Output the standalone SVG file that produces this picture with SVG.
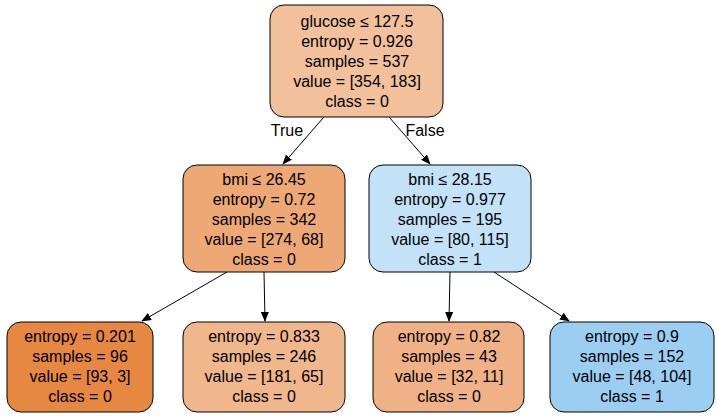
<svg xmlns="http://www.w3.org/2000/svg" width="717" height="419" viewBox="0 0 717 419">
<style>
rect{stroke:#000;stroke-width:1}
text{font-family:"Liberation Sans",Arial,sans-serif;font-size:16px;text-anchor:middle;fill:#000}
.e{stroke:#000;stroke-width:1;fill:none;marker-end:url(#a)}
</style>
<defs><marker id="a" markerWidth="10" markerHeight="8" refX="9" refY="4" orient="auto" markerUnits="userSpaceOnUse"><path d="M0,0L10,4L0,8z" fill="#000"/></marker></defs>
<rect width="717" height="419" fill="#fff" style="stroke:none"/>
<g id="edges">
<path class="e" d="M324,117L283,164"/>
<path class="e" d="M389,117L430,164"/>
<path class="e" d="M227,272L142,321"/>
<path class="e" d="M264,272L265,321"/>
<path class="e" d="M450,272L449,321"/>
<path class="e" d="M494,272L569,321"/>
<text x="287" y="136">True</text>
<text x="425" y="136">False</text>
</g>
<g id="n0"><rect x="270" y="5" width="173" height="112" rx="14" fill="#f3c09c"/>
<text x="357" y="27">glucose ≤ 127.5</text><text x="357" y="47">entropy = 0.926</text><text x="357" y="67">samples = 537</text><text x="357" y="87">value = [354, 183]</text><text x="357" y="107">class = 0</text></g>
<g id="n1"><rect x="183" y="165" width="162" height="107" rx="14" fill="#eda876"/>
<text x="264" y="185">bmi ≤ 26.45</text><text x="264" y="205">entropy = 0.72</text><text x="264" y="225">samples = 342</text><text x="264" y="245">value = [274, 68]</text><text x="264" y="265">class = 0</text></g>
<g id="n2"><rect x="369" y="165" width="162" height="107" rx="14" fill="#c3e1f7"/>
<text x="450" y="185">bmi ≤ 28.15</text><text x="450" y="205">entropy = 0.977</text><text x="450" y="225">samples = 195</text><text x="450" y="245">value = [80, 115]</text><text x="450" y="265">class = 1</text></g>
<g id="n3"><rect x="7" y="322" width="146" height="90" rx="14" fill="#e68742"/>
<text x="80" y="342">entropy = 0.201</text><text x="80" y="362">samples = 96</text><text x="80" y="382">value = [93, 3]</text><text x="80" y="402">class = 0</text></g>
<g id="n4"><rect x="183" y="322" width="162" height="90" rx="14" fill="#f0b68c"/>
<text x="264" y="342">entropy = 0.833</text><text x="264" y="362">samples = 246</text><text x="264" y="382">value = [181, 65]</text><text x="264" y="402">class = 0</text></g>
<g id="n5"><rect x="373" y="322" width="151" height="90" rx="14" fill="#efb185"/>
<text x="449" y="342">entropy = 0.82</text><text x="449" y="362">samples = 43</text><text x="449" y="382">value = [32, 11]</text><text x="449" y="402">class = 0</text></g>
<g id="n6"><rect x="550" y="322" width="164" height="90" rx="14" fill="#9ccef2"/>
<text x="632" y="342">entropy = 0.9</text><text x="632" y="362">samples = 152</text><text x="632" y="382">value = [48, 104]</text><text x="632" y="402">class = 1</text></g>
</svg>
